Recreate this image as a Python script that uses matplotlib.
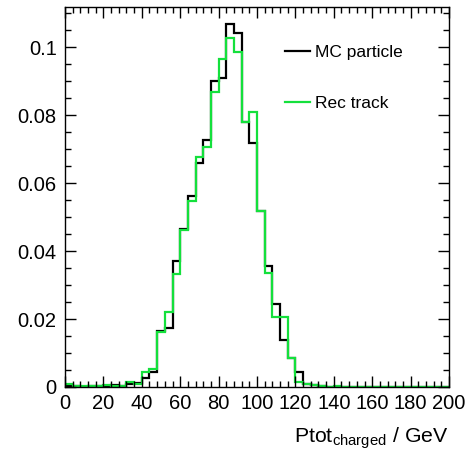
import numpy as np
import matplotlib
matplotlib.use('Agg')
import matplotlib.pyplot as plt
from matplotlib.ticker import MultipleLocator

plt.rcParams['font.family'] = ['Liberation Sans', 'DejaVu Sans']
plt.rcParams['mathtext.fontset'] = 'custom'
plt.rcParams['mathtext.rm'] = 'Liberation Sans'

# 50 bins of 4 GeV from 0 to 200
edges = np.arange(0, 201, 4)

# normalised counts, MC particle
mc_particle = [
    0.0002, 0.0002, 0.0001, 0.0003, 0.0004, 0.0003, 0.0006, 0.0004, 0.0009, 0.0013,
    0.0026, 0.0045, 0.0166, 0.0173, 0.0370, 0.0464, 0.0562, 0.0660, 0.0726, 0.0901,
    0.0908, 0.1068, 0.1042, 0.0780, 0.0717, 0.0517, 0.0357, 0.0243, 0.0138, 0.0086,
    0.0044, 0.0008, 0.0006, 0.0004, 0.0001, 0.0001, 0.0000, 0.0001, 0.0000, 0.0000,
    0.0000, 0.0000, 0.0000, 0.0000, 0.0000, 0.0001, 0.0000, 0.0000, 0.0000, 0.0000,
]

# normalised counts, reconstructed track
rec_track = [
    0.0009, 0.0003, 0.0002, 0.0002, 0.0003, 0.0006, 0.0004, 0.0003, 0.0016, 0.0009,
    0.0045, 0.0052, 0.0163, 0.0221, 0.0333, 0.0462, 0.0548, 0.0678, 0.0707, 0.0869,
    0.0964, 0.1028, 0.0986, 0.0780, 0.0810, 0.0517, 0.0334, 0.0207, 0.0207, 0.0086,
    0.0016, 0.0010, 0.0007, 0.0003, 0.0001, 0.0002, 0.0001, 0.0000, 0.0001, 0.0000,
    0.0000, 0.0000, 0.0000, 0.0000, 0.0000, 0.0000, 0.0000, 0.0001, 0.0000, 0.0001,
]

fig = plt.figure(figsize=(4.69, 4.55), dpi=100)
ax = fig.add_axes([0.1386, 0.1495, 0.8187, 0.8351])

ax.stairs(mc_particle, edges, color='black', linewidth=1.6, label='MC particle')
ax.stairs(rec_track, edges, color='#14e03c', linewidth=1.6, label='Rec track')

ax.set_xlim(0, 200)
ax.set_ylim(0, 0.1118)

ax.xaxis.set_major_locator(MultipleLocator(20))
ax.xaxis.set_minor_locator(MultipleLocator(4))
ax.yaxis.set_major_locator(MultipleLocator(0.02))
ax.yaxis.set_minor_locator(MultipleLocator(0.005))
ax.set_yticks([0, 0.02, 0.04, 0.06, 0.08, 0.1])
ax.set_yticklabels(['0', '0.02', '0.04', '0.06', '0.08', '0.1'])

ax.tick_params(which='both', direction='in', top=True, right=True, width=1.0)
ax.tick_params(which='major', length=8, labelsize=14.5)
ax.tick_params(which='minor', length=4)
ax.tick_params(axis='x', pad=5)
ax.tick_params(axis='y', pad=6)
for s in ax.spines.values():
    s.set_linewidth(1.0)

ax.set_xlabel(r'Ptot$_{\mathrm{charged}}$ / GeV', loc='right', fontsize=15.3, labelpad=9)

ax.legend(loc='upper left', bbox_to_anchor=(0.573, 0.90), frameon=False,
          fontsize=12.5, handlelength=1.44, handletextpad=0.29, labelspacing=2.06,
          borderaxespad=0, borderpad=0)

fig.savefig('out.png', dpi=100)
